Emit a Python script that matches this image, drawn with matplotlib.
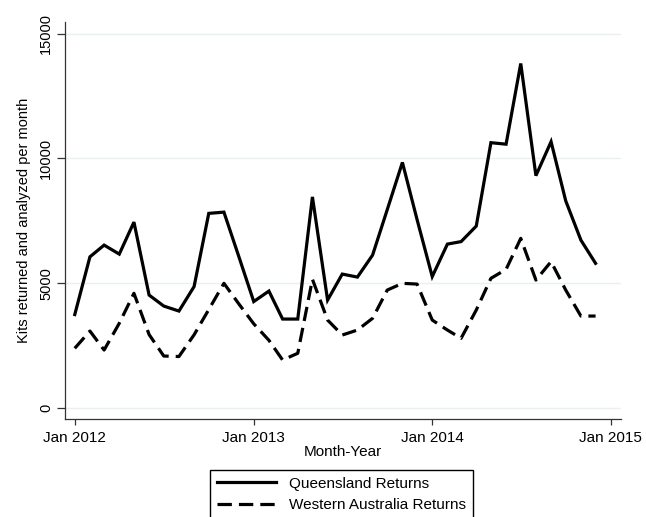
import matplotlib
matplotlib.use('Agg')
import matplotlib.pyplot as plt
import matplotlib.dates as mdates
import pandas as pd

plt.rcParams['font.family'] = ['Liberation Sans', 'DejaVu Sans']

# monthly returns, Jan 2012 - Dec 2014
months = pd.date_range('2012-01-01', periods=36, freq='MS')
queensland = [3750, 6060, 6530, 6170, 7450, 4530, 4090, 3890, 4870, 7800, 7850, 6100,
              4270, 4690, 3570, 3570, 8460, 4330, 5370, 5250, 6130, 7950, 9840, 7550,
              5270, 6570, 6670, 7290, 10630, 10570, 13800, 9310, 10670, 8300, 6730, 5800]
western_aus = [2400, 3090, 2330, 3400, 4600, 2950, 2090, 2070, 2940, 3950, 5000, 4190,
               3380, 2720, 1930, 2200, 5160, 3530, 2930, 3130, 3600, 4730, 5000, 4970,
               3530, 3130, 2800, 3930, 5200, 5560, 6800, 5130, 5870, 4730, 3690, 3690]
tick_dates = pd.to_datetime(['2012-01-01', '2013-01-01', '2014-01-01', '2015-01-01'])
tick_labels = ['Jan 2012', 'Jan 2013', 'Jan 2014', 'Jan 2015']
y_ticks = [0, 5000, 10000, 15000]

fig = plt.figure(figsize=(6.46, 5.17), dpi=100)
ax = fig.add_axes([0.1006, 0.1896, 0.8607, 0.7678])

ax.plot(months, queensland, color='black', lw=2.3, solid_joinstyle='miter',
        label='Queensland Returns')
ax.plot(months, western_aus, color='black', lw=2.3, dashes=(4.5, 2.2),
        label='Western Australia Returns')

ax.set_xlim(pd.Timestamp('2011-12-12'), pd.Timestamp('2015-01-22'))
ax.set_ylim(-430, 15460)

ax.set_xticks(tick_dates)
ax.set_xticklabels(tick_labels, fontsize=11)
ax.set_yticks(y_ticks)
ax.set_yticklabels([str(v) for v in y_ticks], fontsize=10.5, rotation=90, va='center')
ax.tick_params(axis='x', length=4, width=0.9, color='#333333', pad=5)
ax.tick_params(axis='y', length=5.5, width=0.9, color='#333333', pad=3)

ax.grid(axis='y', color='#e8f0f1', lw=1)
ax.set_axisbelow(True)
for s in ['top', 'right']:
    ax.spines[s].set_visible(False)
for s in ['left', 'bottom']:
    ax.spines[s].set_color('#333333')
    ax.spines[s].set_linewidth(0.9)

ax.set_xlabel('Month-Year', fontsize=11, labelpad=0)
ax.set_ylabel('Kits returned and analyzed per month', fontsize=10.5, labelpad=6)

leg = fig.legend(loc='upper center', bbox_to_anchor=(0.529, 0.091), ncol=1,
                 fontsize=11, handlelength=3.85, handletextpad=0.85,
                 labelspacing=0.5, borderpad=0.45, borderaxespad=0, fancybox=False,
                 framealpha=1, edgecolor='black')
leg.get_frame().set_linewidth(1.0)

fig.savefig('out.png', dpi=100)
